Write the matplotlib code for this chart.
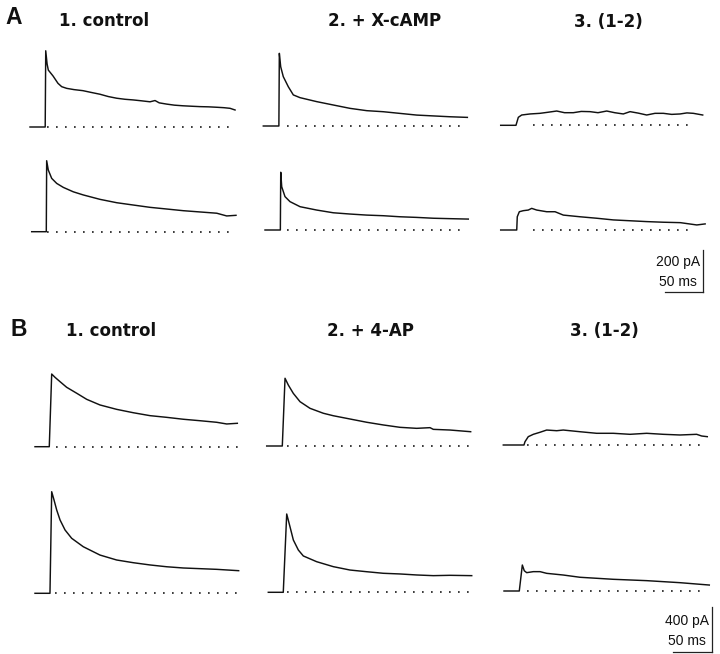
import matplotlib
matplotlib.use("Agg")
import matplotlib.pyplot as plt

# ---------------- data (time in ms, current in pA) ----------------
# Panel A : control / + X-cAMP / difference (1-2), two cells (rows)
A_ctrl_r1_t = [0, 20.0, 20.7, 22.5, 24.1, 30.3, 36.8, 41.7, 48.3, 58.0, 69.7, 80.0, 92.1, 103.0, 114.1, 125.0, 135.5, 146.0, 157.9, 164.5, 170.0, 179.9, 190.0, 201.3, 212.0, 223.7, 235.0, 245.7, 255.0, 263.2, 269.8]
A_ctrl_r1_i = [0, 0, 363, 300, 271, 243, 208, 192, 184, 178, 173, 165, 156, 145, 137, 132, 129, 125, 120, 126, 115, 109, 104, 101, 99, 97, 96, 94, 92, 89, 81]
A_ctrl_r2_t = [0, 19.2, 19.7, 21.8, 26.3, 32.9, 41.6, 54.7, 67.9, 89.9, 111.9, 133.7, 155.7, 177.7, 199.5, 221.5, 243.5, 256.6, 268.8]
A_ctrl_r2_i = [0, 0, 338, 294, 254, 230, 211, 190, 175, 154, 138, 127, 116, 108, 100, 94, 88, 75, 78]
A_drug_r1_t = [0, 20.5, 21.1, 22.9, 26.3, 32.9, 39.5, 48.3, 70.3, 92.1, 114.1, 136.1, 157.9, 179.9, 201.9, 223.7, 245.7, 268.5]
A_drug_r1_i = [0, 0, 346, 282, 235, 187, 148, 135, 116, 100, 84, 73, 68, 60, 52, 48, 44, 41]
A_drug_r2_t = [0, 20.2, 20.7, 22.0, 26.3, 32.9, 46.1, 68.0, 89.9, 111.9, 133.8, 155.7, 177.7, 199.6, 221.5, 243.5, 267.5]
A_drug_r2_i = [0, 0, 275, 206, 159, 135, 111, 95, 82, 76, 71, 68, 63, 60, 56, 54, 52]
A_diff_r1_t = [0, 20.1, 23.2, 27.6, 38.6, 51.7, 62.0, 73.7, 84.0, 95.5, 106.0, 117.5, 128.0, 139.5, 150.0, 161.3, 170.2, 181.0, 192.1, 203.0, 214.0, 225.0, 236.0, 245.0, 253.5, 265.8]
A_diff_r1_i = [0, 0, 38, 49, 54, 57, 62, 68, 60, 60, 66, 65, 60, 68, 60, 54, 65, 58, 49, 57, 57, 52, 54, 59, 57, 49]
A_diff_r2_t = [0, 21.1, 21.8, 24.5, 29.7, 36.3, 40.8, 47.4, 60.5, 71.5, 82.4, 104.4, 126.3, 148.2, 170.2, 192.1, 214.0, 236.4, 258.0, 269.0]
A_diff_r2_i = [0, 0, 63, 87, 92, 95, 103, 95, 87, 87, 71, 63, 56, 48, 44, 40, 37, 35, 24, 29]

# Panel B : control / + 4-AP / difference (1-2)
B_ctrl_r1_t = [0, 18.3, 21.4, 25.6, 32.1, 40.6, 53.5, 66.3, 83.3, 104.7, 126.0, 147.4, 168.8, 190.1, 211.5, 232.9, 245.8, 259.4]
B_ctrl_r1_i = [0, 0, 646, 617, 578, 528, 475, 421, 371, 332, 302, 276, 261, 244, 231, 217, 202, 208]
B_ctrl_r2_t = [0, 19.2, 21.4, 24.4, 27.8, 32.1, 38.5, 47.0, 61.9, 83.3, 104.7, 126.0, 147.4, 168.8, 190.1, 211.5, 232.9, 261.1]
B_ctrl_r2_i = [0, 0, 903, 829, 741, 652, 563, 489, 414, 340, 296, 272, 252, 236, 225, 219, 213, 201]
B_drug_r1_t = [0, 20.0, 23.5, 27.7, 34.1, 42.7, 55.5, 72.6, 85.4, 106.8, 128.2, 149.5, 170.9, 192.3, 209.4, 213.6, 235.0, 261.5]
B_drug_r1_i = [0, 0, 602, 542, 468, 394, 335, 291, 269, 240, 211, 187, 166, 157, 163, 148, 142, 127]
B_drug_r2_t = [0, 19.2, 23.6, 27.8, 32.1, 38.5, 44.9, 62.0, 83.3, 104.7, 126.1, 147.4, 168.8, 190.2, 211.5, 232.9, 260.8]
B_drug_r2_i = [0, 0, 696, 583, 465, 376, 323, 272, 228, 198, 183, 169, 163, 154, 148, 151, 148]
B_diff_r1_t = [0, 26.5, 27.8, 32.0, 38.5, 47.0, 55.6, 68.5, 76.9, 98.3, 119.7, 141.0, 162.4, 183.8, 205.1, 226.5, 247.9, 254.3, 261.5]
B_diff_r1_i = [0, 0, 29, 74, 95, 113, 133, 127, 133, 118, 104, 104, 95, 104, 95, 89, 95, 80, 74]
B_diff_r2_t = [0, 19.6, 23.5, 26.0, 29.1, 37.6, 46.2, 54.7, 76.0, 97.4, 118.8, 140.1, 161.5, 182.9, 204.2, 225.6, 247.0, 263.2]
B_diff_r2_i = [0, 0, 231, 180, 163, 172, 172, 157, 142, 122, 113, 104, 98, 92, 83, 74, 62, 53]

# zero-current (dotted) baseline extent, ms: (start, end)
A_zero = [(22.4, 263.2), (19.7, 259.0), (30.8, 259.7), (28.5, 257.5), (42.1, 251.3), (42.1, 253.4)]
B_zero = [(26.9, 260.6), (25.6, 261.9), (25.6, 260.6), (23.5, 261.6), (30.0, 252.0), (29.1, 251.0)]

titles_A = ["1. control", "2. + X-cAMP", "3. (1-2)"]
titles_B = ["1. control", "2. + 4-AP", "3. (1-2)"]
scale_A = (50, 200)   # ms, pA
scale_B = (50, 400)

# ---------------- layout ----------------
W, H = 720, 654
fig = plt.figure(figsize=(W / 100, H / 100), dpi=100)
fig.patch.set_facecolor("white")

XMAX = 275.0
panels = [
    dict(ms_px=50 / 38.0, pa_px=200 / 42.0, ylim=(-20, 400),
         traces=[(A_ctrl_r1_t, A_ctrl_r1_i), (A_ctrl_r2_t, A_ctrl_r2_i),
                 (A_drug_r1_t, A_drug_r1_i), (A_drug_r2_t, A_drug_r2_i),
                 (A_diff_r1_t, A_diff_r1_i), (A_diff_r2_t, A_diff_r2_i)],
         zero=A_zero,
         origins=[(30.0, 127.0), (31.7, 231.7), (263.3, 126.0), (265.0, 230.0),
                  (500.7, 125.3), (500.7, 230.0)],
         scale=scale_A, bar_corner=(703.3, 291.7),
         letter=("A", 5, 24), titles=titles_A,
         title_pos=[(59, 26), (328, 26.5), (574, 27)],
         scale_text=[(700, 266), (697, 286)]),
    dict(ms_px=50 / 39.0, pa_px=400 / 45.0, ylim=(-30, 950),
         traces=[(B_ctrl_r1_t, B_ctrl_r1_i), (B_ctrl_r2_t, B_ctrl_r2_i),
                 (B_drug_r1_t, B_drug_r1_i), (B_drug_r2_t, B_drug_r2_i),
                 (B_diff_r1_t, B_diff_r1_i), (B_diff_r2_t, B_diff_r2_i)],
         zero=B_zero,
         origins=[(35.0, 446.7), (35.0, 593.3), (266.7, 446.0), (268.3, 592.3),
                  (503.3, 445.0), (504.0, 591.0)],
         scale=scale_B, bar_corner=(711.7, 652.0),
         letter=("B", 11, 336.5), titles=titles_B,
         title_pos=[(66, 336.5), (327, 335.5), (570, 336)],
         scale_text=[(709, 625), (706, 645)]),
]

LW = 1.05
for p in panels:
    m, q = p["ms_px"], p["pa_px"]
    ylo, yhi = p["ylim"]
    for (t, i), (z0, z1), (x0, y0) in zip(p["traces"], p["zero"], p["origins"]):
        wpx = XMAX / m
        hpx = (yhi - ylo) / q
        bottom_px = y0 + (-ylo) / q
        ax = fig.add_axes([x0 / W, (H - bottom_px) / H, wpx / W, hpx / H])
        ax.set_xlim(0, XMAX)
        ax.set_ylim(ylo, yhi)
        ax.axis("off")
        ax.patch.set_alpha(0)
        ax.plot(t, i, color="#111111", lw=LW, solid_joinstyle="round", clip_on=False)
        ax.plot([z0, z1], [0, 0], color="#1a1a1a", lw=1.2,
                linestyle=(0, (1, 4.4)), dash_capstyle="butt", clip_on=False)

    # scale bar
    sx, sy = p["scale"]
    cx, cy = p["bar_corner"]
    wpx, hpx = sx / m, sy / q
    axs = fig.add_axes([(cx - wpx) / W, (H - cy) / H, wpx / W, hpx / H])
    axs.set_xlim(0, sx)
    axs.set_ylim(0, sy)
    axs.axis("off")
    axs.patch.set_alpha(0)
    axs.plot([0, sx], [0, 0], color="#222222", lw=0.9, clip_on=False)
    axs.plot([sx, sx], [0, sy], color="#222222", lw=0.9, clip_on=False)
    (tx1, ty1), (tx2, ty2) = p["scale_text"]
    fig.text(tx1 / W, 1 - ty1 / H, f"{sy} pA", ha="right", va="baseline",
             fontsize=10, family="Liberation Sans", color="#111111")
    fig.text(tx2 / W, 1 - ty2 / H, f"{sx} ms", ha="right", va="baseline",
             fontsize=10, family="Liberation Sans", color="#111111")

    # letters and titles
    L, lx, ly = p["letter"]
    fig.text(lx / W, 1 - ly / H, L, ha="left", va="baseline", fontsize=16.5,
             fontweight="bold", family="Liberation Sans", color="#111111")
    for title, (tx, ty) in zip(p["titles"], p["title_pos"]):
        fig.text(tx / W, 1 - ty / H, title, ha="left", va="baseline", fontsize=12,
                 fontweight="bold", family="DejaVu Sans", color="#111111")

fig.savefig("out.png", dpi=100, facecolor="white")
